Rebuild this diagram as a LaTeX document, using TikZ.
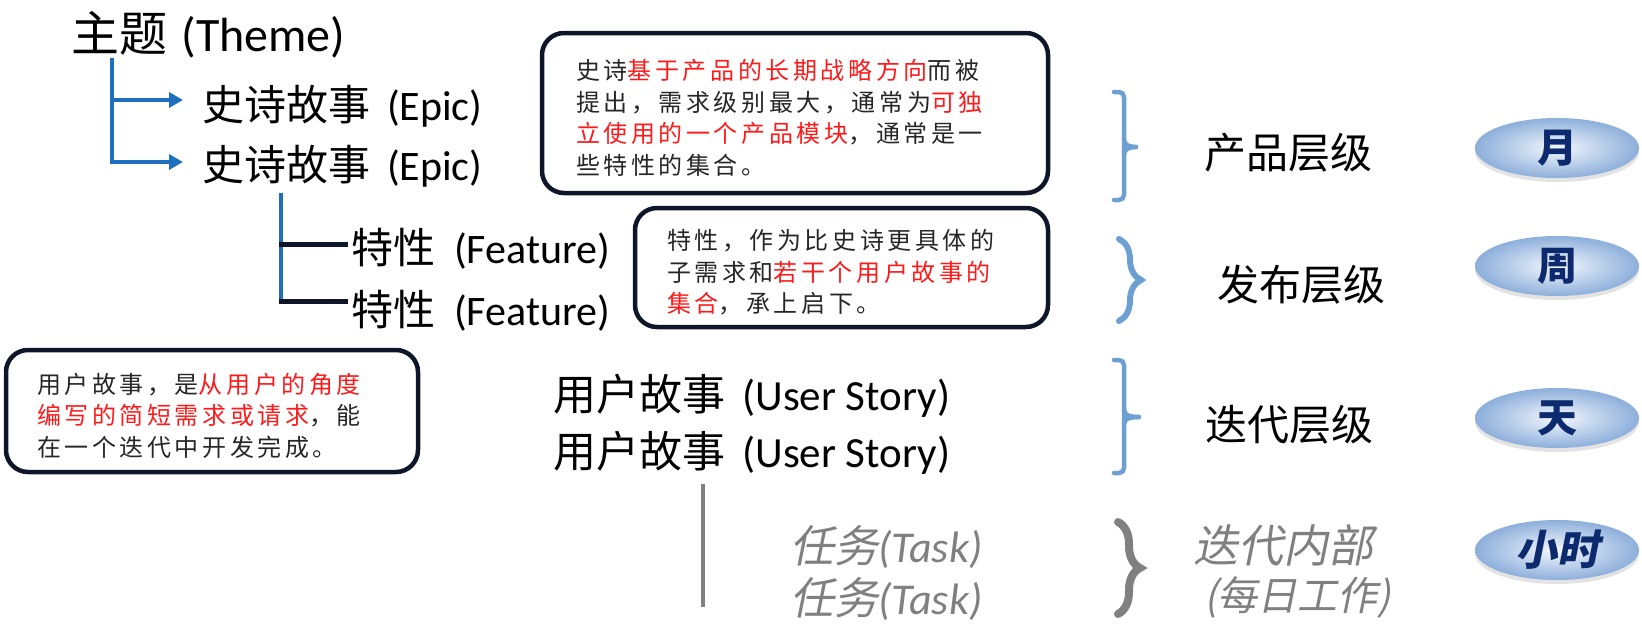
\documentclass[tikz,border=0pt]{standalone}
\usepackage{fontspec}
\setmainfont{Carlito}
\newfontfamily\cjk{Noto Sans CJK SC}
\newfontfamily\cjkit[FakeSlant=0.2]{Noto Sans CJK SC}
\newfontfamily\cjknote[LetterSpace=15]{Noto Sans CJK SC}
\usetikzlibrary{arrows.meta,shapes.geometric,shadows,decorations.pathreplacing}
\definecolor{hblue}{HTML}{1F6FBF}
\definecolor{boxc}{HTML}{0F1629}
\definecolor{nred}{HTML}{FF1A1A}
\definecolor{brc}{HTML}{6E9FD3}
\definecolor{gr}{HTML}{808080}
\definecolor{pillin}{HTML}{F4F8FD}
\definecolor{pillout}{HTML}{8DAFDB}
\definecolor{pilltxt}{HTML}{0D2A6E}
\newcommand\setfs[1]{\fontsize{#1}{#1}\selectfont}
\newcommand\firststrut{\rule{0pt}{30pt}}
\begin{document}
\begin{tikzpicture}[x=1pt,y=-1pt,
  big/.style={anchor=west, inner sep=0pt, font=\setfs{42}},
  note/.style={draw=boxc, line width=4.5pt, rounded corners=22pt, align=left,
    inner sep=0pt, font=\cjknote\fontsize{24}{31.7}\selectfont, text=black!85},
  hl/.style={draw=hblue, line width=4pt},
  kl/.style={draw=boxc, line width=5pt},
  tip/.style={-{Triangle[length=14pt,width=15pt]}},
  sqbrace/.style={draw=brc, line width=4.5pt, rounded corners=5pt, line cap=round},
  cbrace/.style={decorate, decoration={brace, amplitude=22pt}, line cap=round},
  pill/.style={ellipse, minimum width=164pt, minimum height=60pt, inner sep=0pt,
    inner color=pillin, outer color=pillout,
    drop shadow={shadow xshift=0pt, shadow yshift=-4pt, opacity=0.18, fill=black!60},
    font=\cjk\bfseries\setfs{40}, text=pilltxt},
  lvl/.style={anchor=west, inner sep=0pt, font=\cjk\setfs{42}},
  glvl/.style={anchor=west, inner sep=0pt, font=\cjkit\setfs{42}, text=gr}
]
\useasboundingbox (0,0) rectangle (1642,630);

% hierarchy texts
\node[big, font=\setfs{48}] (theme) at (71,35) {{\cjk 主题}\hspace{0.3em}(Theme)};
\node[big] (e1) at (202,106) {{\cjk 史诗故事}\hspace{0.4em}(Epic)};
\node[big] (e2) at (202,166) {{\cjk 史诗故事}\hspace{0.4em}(Epic)};
\node[big] (f1) at (351,249) {{\cjk 特性}\hspace{0.45em}(Feature)};
\node[big] (f2) at (351,311) {{\cjk 特性}\hspace{0.45em}(Feature)};
\node[big, font=\setfs{43}] (u1) at (553,396) {{\cjk 用户故事}\hspace{0.4em}(User Story)};
\node[big, font=\setfs{43}] (u2) at (553,453) {{\cjk 用户故事}\hspace{0.4em}(User Story)};
\node[big, text=gr, font=\setfs{44}] (t1) at (790,547) {{\cjkit 任务}\textit{(Task)}};
\node[big, text=gr, font=\setfs{44}] (t2) at (790,599) {{\cjkit 任务}\textit{(Task)}};

% connectors
\coordinate (tv) at (112,58);
\coordinate (b1) at (112,100);
\coordinate (a1) at (183,100);
\coordinate (a2) at (183,162);
\draw[hl,tip] (tv) |- (a2);
\draw[hl,tip] (b1) -- (a1);

\coordinate (fv1) at (281,193);
\coordinate (fv2) at (281,303);
\coordinate (fh1) at (279,244);
\coordinate (fe1) at (348,244);
\coordinate (fh2) at (279,301);
\coordinate (fe2) at (348,301);
\draw[hl] (fv1) -- (fv2);
\draw[kl] (fh1) -- (fe1);
\draw[kl] (fh2) -- (fe2);

\coordinate (gv1) at (703,484);
\coordinate (gv2) at (703,607);
\draw[draw=gr, line width=4pt] (gv1) -- (gv2);

% callout boxes
\node[note, minimum width=506pt, minimum height=160pt, text width=438pt] (n1) at (795,113)
 {\firststrut 史诗\textcolor{nred}{基于产品的长期战略方向}而被\\
  提出，需求级别最大，通常为\textcolor{nred}{可独}\\
  \textcolor{nred}{立使用的一个产品模块}，通常是一\\
  些特性的集合。};
\node[note, minimum width=413pt, minimum height=119pt, text width=349pt] (n2) at (841.5,267.5)
 {\firststrut 特性，作为比史诗更具体的\\
  子需求和\textcolor{nred}{若干个用户故事的}\\
  \textcolor{nred}{集合}，承上启下。};
\node[note, minimum width=412pt, minimum height=122pt, text width=350pt] (n3) at (212,411)
 {\firststrut 用户故事，是\textcolor{nred}{从用户的角度}\\
  \textcolor{nred}{编写的简短需求或请求}，能\\
  在一个迭代中开发完成。};

% braces
\draw[sqbrace] (1114,92) -- (1124,92) -- (1124,200) -- (1114,200);
\draw[sqbrace, rounded corners=0pt] (1124,140) to[out=-90,in=180] (1136,147);
\draw[sqbrace, rounded corners=0pt] (1124,154) to[out=90,in=180] (1136,147);

\draw[cbrace, draw=brc, line width=6pt] (1119,239) -- (1119,321);

\draw[sqbrace] (1114,360) -- (1124,360) -- (1124,473) -- (1114,473);
\draw[sqbrace, rounded corners=0pt] (1124,410) to[out=-90,in=180] (1139,417);
\draw[sqbrace, rounded corners=0pt] (1124,424) to[out=90,in=180] (1139,417);

\draw[cbrace, draw=gr, line width=8pt] (1118,522) -- (1118,614);

% level labels
\node[lvl] (l1) at (1204,153) {产品层级};
\node[lvl] (l2) at (1217,285) {发布层级};
\node[lvl] (l3) at (1205,425) {迭代层级};
\node[glvl, font=\cjkit\setfs{45}] (l4) at (1193,545) {迭代内部};
\node[glvl, font=\cjkit\setfs{40}] (l5) at (1204,597) {(每日工作)};

% pills
\node[pill] (p1) at (1557,148) {月};
\node[pill] (p2) at (1557,266) {周};
\node[pill] (p3) at (1557,418) {天};
\node[pill, font=\cjkit\bfseries\setfs{42}] (p4) at (1557,550) {小时};
\end{tikzpicture}
\end{document}
